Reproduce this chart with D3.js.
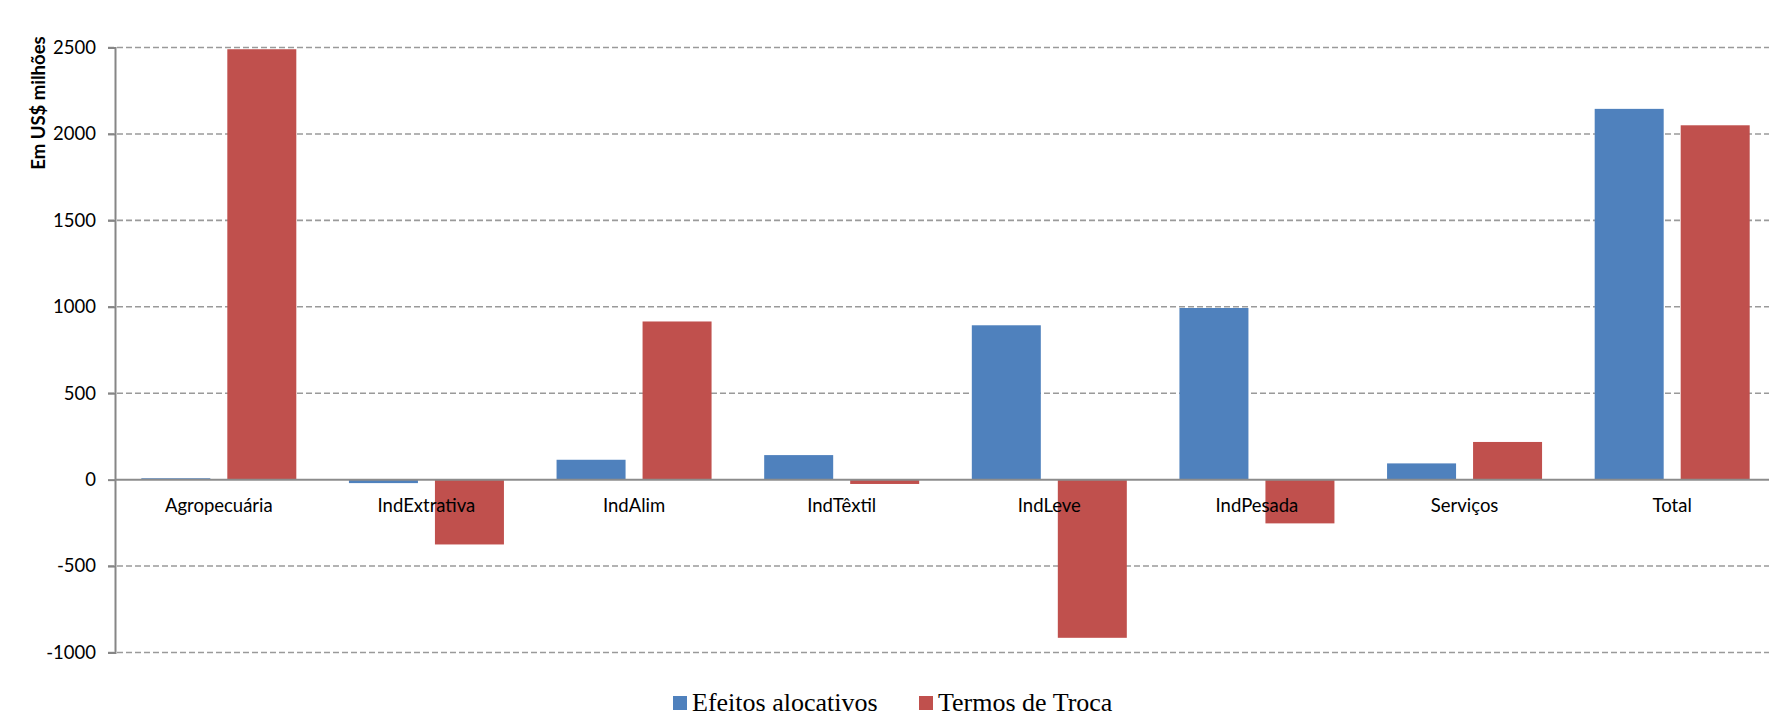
<!DOCTYPE html>
<html>
<head>
<meta charset="utf-8">
<script src="https://cdn.jsdelivr.net/npm/d3@7"></script>
<style>
  html, body { margin: 0; padding: 0; background: #fff; overflow: hidden; }
  svg { display: block; }
  .tick text { font-family: Lato, "Open Sans", sans-serif; font-size: 18.5px; fill: #000; }
</style>
</head>
<body>
<div id="chart"></div>
<script>
// Sectors and the two series (US$ millions)
const categories = ['Agropecuária', 'IndExtrativa', 'IndAlim', 'IndTêxtil', 'IndLeve', 'IndPesada', 'Serviços', 'Total'];
const efeitosAlocativos = [8, -20, 115, 142, 893, 993, 94, 2145];
const termosDeTroca = [2490, -375, 915, -25, -915, -253, 218, 2050];
const seriesNames = ['Efeitos alocativos', 'Termos de Troca'];
const seriesColors = ['#4F81BD', '#C0504D'];
const yTicks = [-1000, -500, 0, 500, 1000, 1500, 2000, 2500];

const W = 1769, H = 717;
const svg = d3.select('#chart').append('svg').attr('width', W).attr('height', H);

const x = d3.scaleBand().domain(categories).range([115, 1776]).paddingInner(0).paddingOuter(0);
const y = d3.scaleLinear().domain([-1000, 2500]).range([652.5, 47.5]);

// gridlines (dashed), except zero
svg.append('g').selectAll('line')
  .data(yTicks.filter(d => d !== 0))
  .join('line')
  .attr('x1', 108).attr('x2', W)
  .attr('y1', d => y(d)).attr('y2', d => y(d))
  .attr('stroke', '#9a9a9a').attr('stroke-width', 1.6)
  .attr('stroke-dasharray', '6,3');

// y axis (plain hyphen for negatives, like the original)
const yAxis = svg.append('g').attr('transform', 'translate(115,0)')
  .call(d3.axisLeft(y).tickValues(yTicks).tickSize(7).tickPadding(12).tickFormat(d => String(d)));
yAxis.select('.domain').attr('stroke', '#868686').attr('stroke-width', 2);
yAxis.selectAll('.tick line').attr('stroke', '#868686').attr('stroke-width', 2);

// bars
const barW = 69, gap = 17;
const rows = categories.map((c, i) => ({ c, v: [efeitosAlocativos[i], termosDeTroca[i]] }));
const groups = svg.append('g').selectAll('g')
  .data(rows).join('g')
  .attr('transform', d => `translate(${x(d.c) + x.bandwidth() / 2},0)`);
groups.selectAll('rect')
  .data(d => d.v.map((v, k) => ({ v, k })))
  .join('rect')
  .attr('x', d => d.k === 0 ? -gap / 2 - barW : gap / 2)
  .attr('width', barW)
  .attr('y', d => y(Math.max(0, d.v)))
  .attr('height', d => Math.abs(y(d.v) - y(0)))
  .attr('fill', d => seriesColors[d.k]);

// zero line
svg.append('line')
  .attr('x1', 115).attr('x2', W)
  .attr('y1', y(0)).attr('y2', y(0))
  .attr('stroke', '#8c8c8c').attr('stroke-width', 2);

// category labels
const xAxis = svg.append('g').attr('transform', `translate(0,${y(0)})`)
  .call(d3.axisBottom(x).tickSize(0).tickPadding(19));
xAxis.select('.domain').remove();

// y title
svg.append('text')
  .attr('transform', 'translate(45,103) rotate(-90)')
  .attr('text-anchor', 'middle')
  .style('font-family', 'Lato, "Open Sans", sans-serif')
  .style('font-weight', 'bold')
  .style('font-size', '18.5px')
  .text('Em US$ milhões');

// legend
const legend = svg.append('g').attr('transform', 'translate(673,703)');
const legendX = [0, 246];
seriesNames.forEach((name, k) => {
  const lg = legend.append('g').attr('transform', `translate(${legendX[k]},0)`);
  lg.append('rect').attr('x', 0).attr('y', -7).attr('width', 14).attr('height', 14).attr('fill', seriesColors[k]);
  lg.append('text').attr('x', 19).attr('y', 8)
    .style('font-family', '"Liberation Serif", "Times New Roman", serif')
    .style('font-size', '26px')
    .text(name);
});
</script>
</body>
</html>
